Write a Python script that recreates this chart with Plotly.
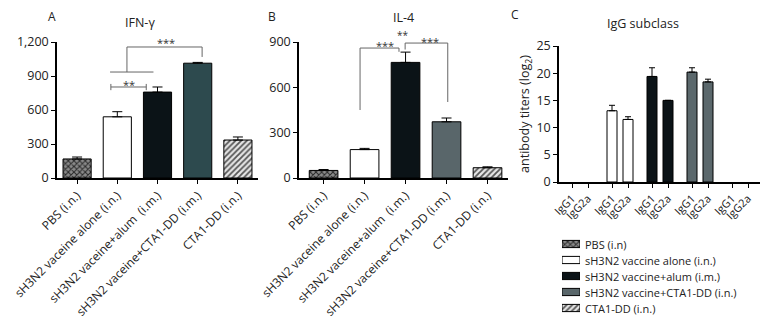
import plotly.graph_objects as go
import numpy as np

# ---------------- data ----------------
groups = ["PBS (i.n.)", "sH3N2 vaceine alone (i.n.)", "sH3N2 vaceine+alum  (i.m.)",
          "sH3N2 vaceine+CTA1-DD (i.m.)", "CTA1-DD (i.n.)"]
legend_names = ["PBS (i.n)", "sH3N2 vaccine alone (i.n.)", "sH3N2 vaccine+alum (i.m.)",
                "sH3N2 vaccine+CTA1-DD (i.n.)", "CTA1-DD (i.n.)"]

ifn_mean = [168, 540, 758, 1013, 335]
ifn_err = [17, 45, 45, 7, 27]

il4_mean = [50, 188, 765, 372, 68]
il4_err = [6, 8, 68, 25, 6]

subclasses = ["IgG1", "IgG2a"]
igg1_mean = [0, 13.1, 19.4, 20.2, 0]
igg1_err = [0, 1.0, 1.6, 0.8, 0]
igg2a_mean = [0, 11.5, 15.0, 18.4, 0]
igg2a_err = [0, 0.5, 0, 0.5, 0]

# ---------------- style ----------------
FONT = "Open Sans"
W, H = 772, 323
fill_A = ["#8a8a8a", "#ffffff", "#0b1317", "#2d4a4e", "#d8d8d8"]
fill_B = ["#8a8a8a", "#ffffff", "#0b1317", "#59666a", "#d8d8d8"]
fill_C = ["#8a8a8a", "#ffffff", "#0b1317", "#5b686c", "#d8d8d8"]
patterns = ["x", "", "", "", "/"]
pat_fg = ["#2a2a2a", None, None, None, "#555555"]

fig = go.Figure()


def pat(i):
    if patterns[i]:
        return dict(shape=patterns[i], fgcolor=pat_fg[i], bgcolor=fill_A[i] if i == 0 else "#e6e6e6",
                    size=4, solidity=0.45, fillmode="replace")
    return dict(shape="")


for i, g in enumerate(groups):
    fig.add_trace(go.Bar(
        x=[g], y=[ifn_mean[i]], width=0.7, xaxis="x", yaxis="y",
        marker=dict(color=fill_A[i], line=dict(color="black", width=1), pattern=pat(i)),
        error_y=dict(type="data", symmetric=False, array=[ifn_err[i]], arrayminus=[0],
                     color="black", thickness=1, width=5),
        showlegend=False))

for i, g in enumerate(groups):
    fig.add_trace(go.Bar(
        x=[g], y=[il4_mean[i]], width=0.7, xaxis="x2", yaxis="y2",
        marker=dict(color=fill_B[i], line=dict(color="black", width=1), pattern=pat(i)),
        error_y=dict(type="data", symmetric=False, array=[il4_err[i]], arrayminus=[0],
                     color="black", thickness=1, width=5),
        showlegend=False))

offsets = [-0.2, 0.2]
tickvals, ticktext = [], []
for gi in range(len(groups)):
    for si, sc in enumerate(subclasses):
        tickvals.append(gi + offsets[si])
        ticktext.append(sc)

for gi in range(len(groups)):
    means = [igg1_mean[gi], igg2a_mean[gi]]
    errs = [igg1_err[gi], igg2a_err[gi]]
    xs = [gi + o for o in offsets]
    has_data = any(m > 0 for m in means)
    fig.add_trace(go.Bar(
        x=xs, y=means, width=0.25, xaxis="x3", yaxis="y3",
        marker=dict(color=fill_C[gi], line=dict(color="black", width=1 if has_data else 0),
                    pattern=pat(gi)),
        error_y=dict(type="data", symmetric=False, array=errs, arrayminus=[0, 0],
                     color="black", thickness=1, width=3, visible=has_data),
        showlegend=False))

# custom legend: swatches as bars on a hidden axis, labels as annotations
for i, name in enumerate(legend_names):
    fig.add_trace(go.Bar(
        x=[1], y=[name], orientation="h", width=0.45, xaxis="x4", yaxis="y4",
        marker=dict(color=fill_B[i], line=dict(color="black", width=1), pattern=pat(i)),
        showlegend=False, hoverinfo="skip"))
    fig.add_annotation(text=name, x=583 / W, y=name, xref="paper", yref="y4",
                       xanchor="left", yanchor="middle", showarrow=False,
                       font=dict(family=FONT, size=11, color="#222"))

axis_common = dict(showline=True, linecolor="black", linewidth=1.5, ticks="outside",
                   ticklen=4, tickcolor="black", showgrid=False, zeroline=False,
                   automargin=False,
                   tickfont=dict(family=FONT, size=12.5, color="#222"))
xcommon = dict(axis_common, tickangle=-45, tickfont=dict(family=FONT, size=12, color="#222"))
hidden = dict(visible=False, showgrid=False, zeroline=False, automargin=False, fixedrange=True)

yA = [1 - 178 / H, 1 - 42 / H]
yC = [1 - 182 / H, 1 - 46 / H]

fig.update_layout(
    width=W, height=H, margin=dict(l=0, r=0, t=0, b=0, autoexpand=False),
    plot_bgcolor="white", paper_bgcolor="white", barmode="overlay",
    font=dict(family=FONT, color="#222"), showlegend=False,
    xaxis=dict(xcommon, domain=[57 / W, 258 / W], anchor="y", type="category"),
    yaxis=dict(axis_common, domain=yA, anchor="x", range=[0, 1200],
               tickvals=[0, 300, 600, 900, 1200], ticktext=["0", "300", "600", "900", "1,200"]),
    xaxis2=dict(xcommon, domain=[299 / W, 508 / W], anchor="y2", type="category",
                range=[-0.6, 4.5]),
    yaxis2=dict(axis_common, domain=yA, anchor="x2", range=[0, 900],
                tickvals=[0, 300, 600, 900]),
    xaxis3=dict(xcommon, domain=[559 / W, 760 / W], anchor="y3", range=[-0.525, 4.5],
                tickvals=tickvals, ticktext=ticktext,
                tickfont=dict(family=FONT, size=11, color="#222")),
    yaxis3=dict(axis_common, domain=yC, anchor="x3", range=[0, 25],
                tickvals=[0, 5, 10, 15, 20, 25],
                title=dict(text="antibody titers (log<sub>2</sub>)", standoff=4,
                           font=dict(family=FONT, size=12.5, color="#222"))),
    xaxis4=dict(hidden, domain=[562 / W, 580 / W], anchor="y4", range=[0, 1]),
    yaxis4=dict(hidden, domain=[1 - 316 / H, 1 - 236 / H], anchor="x4", type="category",
                range=[4.5, -0.5]),
)

# panel titles / letters
for txt, x, y, sz in [("A", 52, 17, 12), ("B", 272, 17, 12), ("C", 515, 15, 12),
                      ("IFN-γ", 140, 22, 12.5), ("IL-4", 403, 18, 12.5),
                      ("IgG subclass", 643, 24, 12.5)]:
    fig.add_annotation(text=txt, x=x / W, y=1 - y / H, xref="paper", yref="paper",
                       xanchor="center", yanchor="middle",
                       showarrow=False, font=dict(family=FONT, size=sz, color="#222"))

# significance brackets
lc = dict(color="#666", width=1)


def seg(xr, yr, x0, y0, x1, y1):
    fig.add_shape(type="line", xref=xr, yref=yr, x0=x0, y0=y0, x1=x1, y1=y1, line=lc)


def stars(xr, x, ypx, t, sz=11):
    # star labels placed in paper-y (they sit above the axis range)
    fig.add_annotation(text=t, x=x, y=1 - ypx / H, xref=xr, yref="paper", showarrow=False,
                       xanchor="center", yanchor="middle",
                       font=dict(family=FONT, size=sz, color="#333"))


# Panel A
seg("x", "y", 0.84, 803, 1.72, 803)
seg("x", "y", 0.84, 775, 0.84, 830)
seg("x", "y", 1.72, 775, 1.72, 830)
stars("x", 1.3, 84, "**")
seg("x", "y", 0.82, 935, 1.9, 935)
seg("x", "y", 1.24, 935, 1.24, 1156)
seg("x", "y", 1.24, 1156, 3.11, 1156)
seg("x", "y", 3.11, 1156, 3.11, 1068)
stars("x", 2.2, 43, "***")

# Panel B
seg("x2", "y2", 0.89, 946, 2.86, 946)
seg("x2", "y2", 0.89, 946, 0.89, 920)
seg("x2", "y2", 2.86, 946, 2.86, 920)
stars("x2", 1.94, 35, "**", 10)
seg("x2", "y2", 0.89, 860, 1.84, 860)
seg("x2", "y2", 0.89, 860, 0.89, 450)
seg("x2", "y2", 1.84, 860, 1.84, 835)
stars("x2", 1.5, 46, "***")
seg("x2", "y2", 1.99, 893, 3.03, 893)
seg("x2", "y2", 3.03, 893, 3.03, 503)
seg("x2", "y2", 1.99, 893, 1.99, 850)
stars("x2", 2.6, 41, "***")

fig.write_html("out.html")
